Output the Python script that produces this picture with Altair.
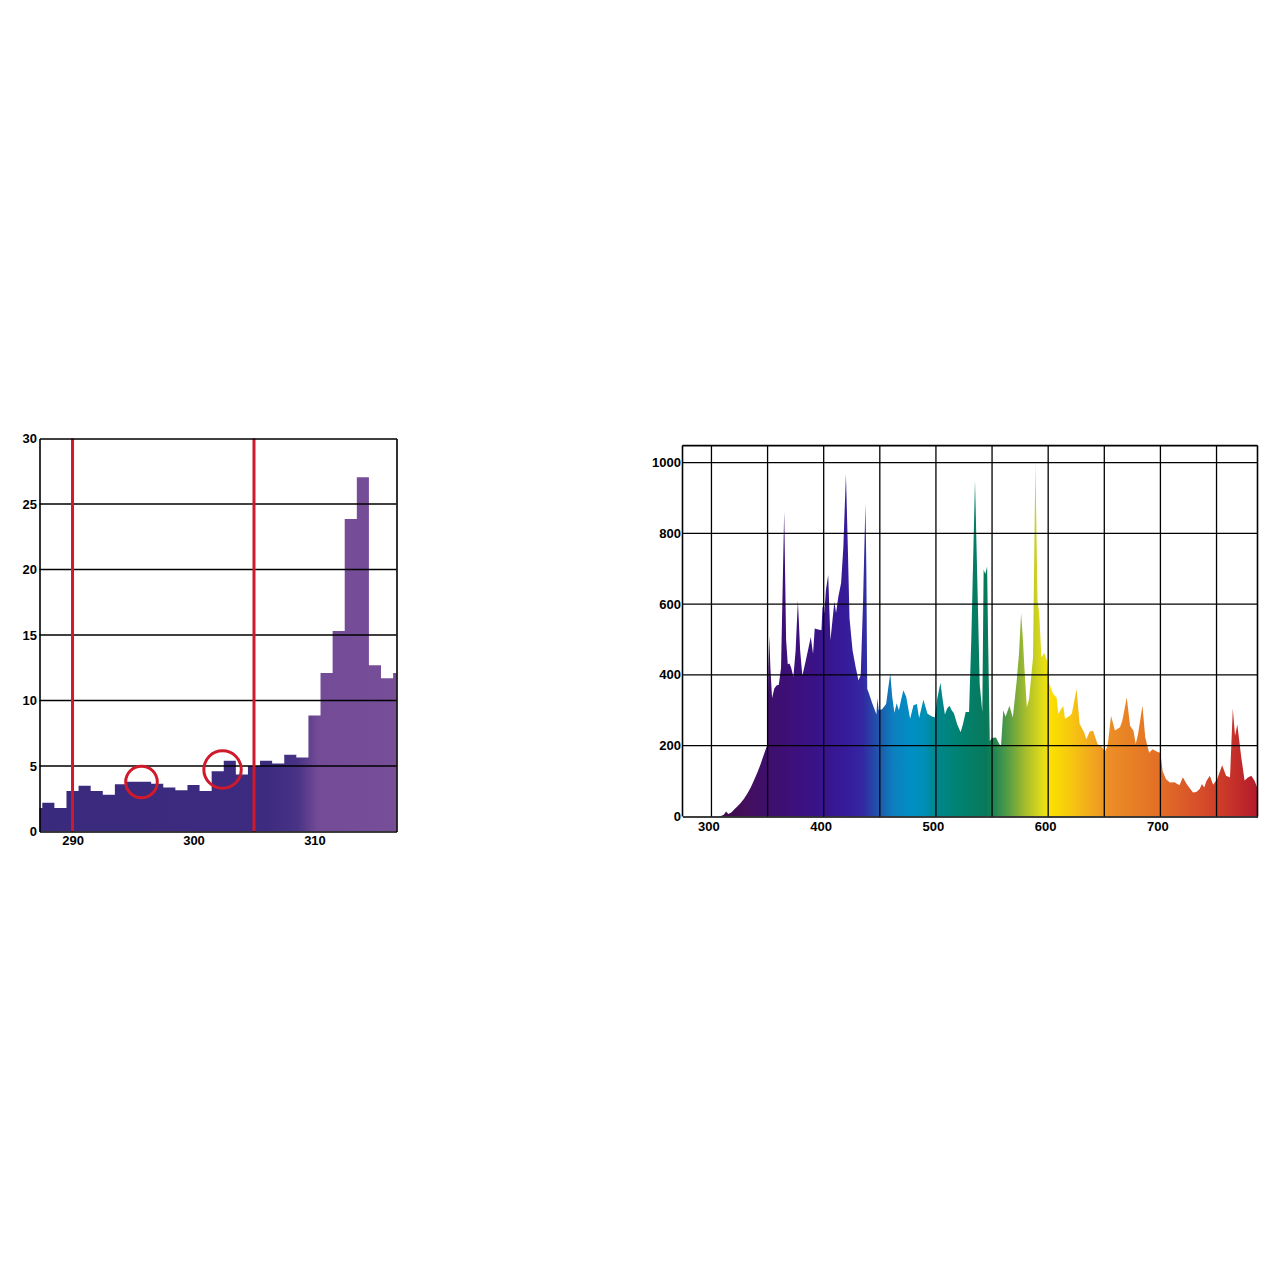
import altair as alt
import pandas as pd

# ---------------- data: left chart (UV-B detail histogram, 1 nm bins) ----------------
hist_nm = list(range(287, 318))
hist_val = [1.8, 2.2, 1.8, 3.1, 3.5, 3.1, 2.8, 3.6, 3.8, 3.8, 3.65, 3.35, 3.15, 3.55,
            3.1, 4.6, 5.4, 4.35, 5.0, 5.4, 5.2, 5.85, 5.65, 8.85, 12.1, 15.3, 23.85,
            27.05, 12.7, 11.7, 12.1]
left_x_ticks = [290, 300, 310]
left_y_ticks = [0, 5, 10, 15, 20, 25, 30]
left_grid = [5, 10, 15, 20, 25]
uvb_limits = [290, 305]
circle1 = {"nm": [295.7], "val": [3.78]}
circle2 = {"nm": [302.4], "val": [4.73]}

# ---------------- data: right chart (full spectrum) ----------------
spec_nm = [305, 308, 311, 313, 315, 318, 320, 323, 326, 329, 332, 335, 338, 341, 344, 347,
           350, 350.6, 351.5, 352.5, 354, 356, 358, 360, 362, 364.8, 366.5, 368, 369.5, 371,
           373, 375, 377, 379, 381, 384, 386, 388.5, 390.5, 392, 395, 398, 399, 400.5, 402,
           404, 406, 408, 409.5, 411, 413, 415.5, 417.5, 419.8, 421.5, 423, 425.7, 428.5,
           431, 433, 435, 437.2, 438, 438.8, 440.5, 443, 447, 447.8, 449, 452, 455.6, 459.3,
           461, 463, 465, 467, 469, 471, 473.5, 477, 480, 483, 485, 488.8, 492.5, 496, 499,
           501, 504, 506, 508, 510, 512, 514, 516, 519, 522, 524, 526.5, 529.5, 531.5, 534.8,
           537, 539, 541.3, 542.5, 544, 545.6, 546.5, 548, 550, 553.5, 556.5, 558, 560, 562,
           565.5, 568.5, 572, 574, 575.9, 577.5, 578.8, 581, 583, 586.5, 588.6, 590.5, 592,
           594, 596.5, 599, 601, 604.5, 607.5, 609, 613.4, 615, 619, 621, 625.3, 628, 632,
           634, 637, 640, 644, 647, 650.6, 653, 656, 659.5, 664, 666, 670, 673, 676, 678,
           680, 684, 686.5, 690, 693, 697.5, 700, 702, 705, 708.5, 712.5, 717, 720, 723.5,
           729, 732, 735, 737, 739, 741, 744, 747, 750.5, 755, 758.5, 762, 764.5, 766.5,
           768.5, 772, 775, 778, 781, 784, 786.5]
spec_val = [0, 1, 5, 14, 7, 12, 19, 28, 38, 50, 65, 82, 103, 125, 150, 178,
            204, 420, 510, 420, 335, 362, 370, 372, 420, 862, 500, 430, 432, 420,
            395, 470, 611, 470, 398, 440, 470, 507, 460, 531, 528, 526, 595, 575, 640,
            682, 498, 560, 607, 575, 620, 660, 760, 968, 760, 560, 470, 422,
            384, 400, 600, 885, 700, 360, 346, 322, 288, 335, 300, 303, 318, 405,
            340, 293, 320, 300, 330, 357, 338, 276, 314, 318, 278, 330, 290, 283, 280,
            330, 378, 330, 288, 305, 313, 300, 292, 260, 238, 260, 295, 295, 500, 950,
            650, 374, 295, 697, 685, 706, 500, 213, 222, 223, 204, 199, 300, 282,
            313, 280, 385, 460, 575, 500, 422, 308, 333, 450, 1000, 611, 574,
            450, 462, 440, 375, 346, 336, 290, 313, 276, 284, 290, 360, 262, 238,
            218, 240, 242, 204, 200, 184, 200, 285, 243, 252, 270, 336, 256, 242, 205,
            232, 313, 223, 180, 190, 182, 180, 128, 105, 96, 97, 88, 111, 91,
            68, 69, 78, 92, 82, 100, 115, 90, 105, 145, 115, 110, 305, 228,
            260, 168, 102, 110, 115, 100, 80]
right_x_labels = [300, 400, 500, 600, 700]
right_x_grid = [300, 350, 400, 450, 500, 550, 600, 650, 700, 750]
right_y_ticks = [0, 200, 400, 600, 800, 1000]
right_y_grid = [200, 400, 600, 800, 1000]
right_frame_nm = [274.2, 786.5]   # left / right edge of the framed plot
right_frame_top = 1048            # top edge of the framed plot

# ---------------- styling helpers ----------------
FONT = "Liberation Sans"
RED = "#cf1a2b"
GRID_W = 1.3
FRAME_W = 1.6


def label_axis(values, orient, pad, domain=True, offset=0):
    return alt.Axis(values=values, orient=orient, title=None, grid=False, ticks=False,
                    domain=domain, domainColor="black", domainWidth=FRAME_W, format="d",
                    labelFont=FONT, labelFontSize=13, labelFontWeight="bold",
                    labelColor="black", labelPadding=pad, labelFlush=False,
                    labelOverlap=False, labelOffset=offset, zindex=1)


def frame_axis(orient):
    return alt.Axis(orient=orient, title=None, grid=False, ticks=False, labels=False,
                    domain=True, domainColor="black", domainWidth=FRAME_W, zindex=1)


def gradient(stops, lo, hi):
    return alt.Gradient(
        gradient="linear", x1=0, x2=1, y1=0, y2=0,
        stops=[alt.GradientStop(offset=max(0.0, min(1.0, (w - lo) / (hi - lo))), color=c)
               for w, c in stops])


# ---------------- left chart ----------------
edges = [n - 0.5 for n in hist_nm] + [hist_nm[-1] + 0.5]
hist_df = pd.DataFrame({"nm": edges, "val": hist_val + [hist_val[-1]]})
lx = alt.Scale(domain=[287.27, 316.78], nice=False, zero=False)
ly = alt.Scale(domain=[0, 30], nice=False)

left_stops = [(287, "#3a2a7d"), (306, "#3c2b80"), (308.6, "#483385"),
              (310.3, "#744b96"), (317.5, "#774e98")]

l_area = alt.Chart(hist_df).mark_area(
    interpolate="step-after", clip=True,
    color=gradient(left_stops, edges[0], edges[-1])
).encode(
    x=alt.X("nm:Q", scale=lx, axis=label_axis(left_x_ticks, "bottom", 3)),
    y=alt.Y("val:Q", scale=ly, axis=label_axis(left_y_ticks, "left", 3)),
)

l_grid = alt.Chart(pd.DataFrame({"val": left_grid})).mark_rule(
    color="black", strokeWidth=GRID_W
).encode(y=alt.Y("val:Q", scale=ly, axis=frame_axis("right")))

l_red = alt.Chart(pd.DataFrame({"nm": uvb_limits})).mark_rule(
    color=RED, strokeWidth=3
).encode(x=alt.X("nm:Q", scale=lx, axis=frame_axis("top")))

l_c1 = alt.Chart(pd.DataFrame(circle1)).mark_point(
    shape="circle", filled=False, color=RED, strokeWidth=3, size=1000, opacity=1
).encode(x=alt.X("nm:Q", scale=lx, axis=None), y=alt.Y("val:Q", scale=ly, axis=None))

l_c2 = alt.Chart(pd.DataFrame(circle2)).mark_point(
    shape="circle", filled=False, color=RED, strokeWidth=3, size=1400, opacity=1
).encode(x=alt.X("nm:Q", scale=lx, axis=None), y=alt.Y("val:Q", scale=ly, axis=None))

left = alt.layer(l_area, l_grid, l_red, l_c1, l_c2).resolve_axis(
    x="independent", y="independent"
).properties(width=357, height=393)

# ---------------- right chart ----------------
spec_df = pd.DataFrame({"nm": spec_nm, "val": spec_val})
rx = alt.Scale(domain=right_frame_nm, nice=False, zero=False)
# the view is a little taller than the frame so that the frame sits lower than the left one
ry = alt.Scale(domain=[0, 1068], nice=False)
RX_AXIS = label_axis(right_x_labels, "bottom", 4, offset=-3)
RY_AXIS = label_axis(right_y_ticks, "left", 2, domain=False)

spec_stops = [(305, "#3d0b45"), (330, "#430f5c"), (350, "#3f0f6c"), (380, "#3c1080"),
              (400, "#39148c"), (420, "#361b9a"), (435, "#3328a2"), (450, "#1e5aac"),
              (462, "#0c80bf"), (478, "#008fc4"), (490, "#008fb6"), (500, "#00868e"),
              (520, "#008272"), (545, "#08795a"), (552, "#1f8652"), (565, "#5a9e44"),
              (580, "#a8bd2c"), (595, "#e2dc18"), (601, "#fbe200"), (620, "#f7c710"),
              (640, "#f2a51f"), (655, "#ec8d25"), (700, "#e26e26"), (740, "#d5492a"),
              (765, "#c5302a"), (786.5, "#b41a2c")]

r_area = alt.Chart(spec_df).mark_area(
    interpolate="linear", clip=True,
    color=gradient(spec_stops, spec_nm[0], spec_nm[-1])
).encode(
    x=alt.X("nm:Q", scale=rx, axis=RX_AXIS),
    y=alt.Y("val:Q", scale=ry, axis=RY_AXIS),
)

vgrid_df = pd.DataFrame({"nm": right_x_grid, "val": 0, "val_hi": right_frame_top})
r_vgrid = alt.Chart(vgrid_df).mark_rule(color="black", strokeWidth=GRID_W).encode(
    x=alt.X("nm:Q", scale=rx, axis=RX_AXIS),
    y=alt.Y("val:Q", scale=ry, axis=RY_AXIS), y2="val_hi:Q",
)

r_hgrid = alt.Chart(pd.DataFrame({"val": right_y_grid})).mark_rule(
    color="black", strokeWidth=GRID_W
).encode(y=alt.Y("val:Q", scale=ry, axis=RY_AXIS))

frame_side_df = pd.DataFrame({"nm": right_frame_nm, "val": 0, "val_hi": right_frame_top})
r_frame_sides = alt.Chart(frame_side_df).mark_rule(color="black", strokeWidth=FRAME_W).encode(
    x=alt.X("nm:Q", scale=rx, axis=RX_AXIS),
    y=alt.Y("val:Q", scale=ry, axis=RY_AXIS), y2="val_hi:Q",
)
r_frame_top = alt.Chart(pd.DataFrame({"val": [right_frame_top]})).mark_rule(
    color="black", strokeWidth=FRAME_W
).encode(y=alt.Y("val:Q", scale=ry, axis=RY_AXIS))

right = alt.layer(r_area, r_vgrid, r_hgrid, r_frame_sides, r_frame_top).properties(
    width=575, height=378
)

chart = alt.hconcat(left, right, spacing=254).properties(
    padding={"left": 13.5, "top": 424.5, "right": 5, "bottom": 5},
    background="white",
).configure_view(stroke=None)

chart.save("out.html", embed_options={"renderer": "svg", "actions": False})
